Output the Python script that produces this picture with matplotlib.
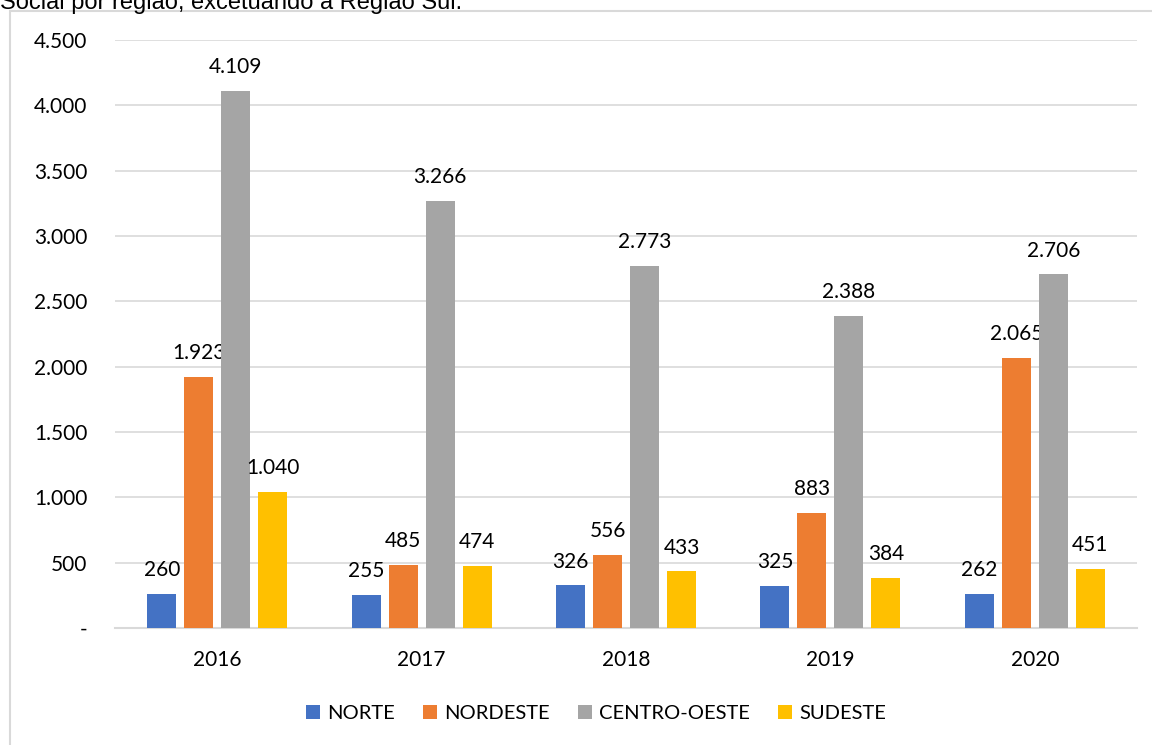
import matplotlib.pyplot as plt
import numpy as np
from matplotlib.patches import Rectangle

anos = ['2016', '2017', '2018', '2019', '2020']
regioes = ['NORTE', 'NORDESTE', 'CENTRO-OESTE', 'SUDESTE']
norte = [260, 255, 326, 325, 262]
nordeste = [1923, 485, 556, 883, 2065]
centro_oeste = [4109, 3266, 2773, 2388, 2706]
sudeste = [1040, 474, 433, 384, 451]
cores = ['#4472C4', '#ED7D31', '#A5A5A5', '#FFC000']
yticks = [0, 500, 1000, 1500, 2000, 2500, 3000, 3500, 4000, 4500]


def fmt(v):
    if v == 0:
        return '-'
    return f'{v:,}'.replace(',', '.')


fig = plt.figure(figsize=(11.52, 7.45), dpi=100)
fonte = ['Lato', 'DejaVu Sans']

# moldura do gráfico (estilo Excel)
fig.patches.append(Rectangle((10 / 1152, -0.01), 1.02, 1 - 11 / 745 + 0.01,
                             transform=fig.transFigure, fill=False,
                             edgecolor='#D9D9D9', linewidth=1.5))
fig.text(0.0, 1.0 - 3 / 745, 'Social por região, excetuando a Região Sul.',
         fontsize=17, family='Liberation Sans', va='center', ha='left')

ax = fig.add_axes([115 / 1152, 1 - 628 / 745, (1137 - 115) / 1152, (628 - 40) / 745])

x = np.arange(len(anos))
largura = 0.142
passo = 0.181
series = [norte, nordeste, centro_oeste, sudeste]
for i, (nome, vals) in enumerate(zip(regioes, series)):
    pos = x + (i - 1.5) * passo
    ax.bar(pos, vals, largura, color=cores[i], label=nome, zorder=3)
    for p, v in zip(pos, vals):
        ax.annotate(fmt(v), (p, v), xytext=(0, 10), textcoords='offset points',
                    ha='center', va='bottom', fontsize=15, family=fonte)

ax.set_xlim(-0.5, len(anos) - 0.5)
ax.set_ylim(0, 4500)
ax.set_yticks(yticks)
ax.set_yticklabels([fmt(v) for v in yticks], family=fonte, fontsize=15)
ax.set_xticks(x)
ax.set_xticklabels(anos, family=fonte, fontsize=15)
ax.tick_params(axis='both', length=0)
ax.tick_params(axis='y', pad=20)
ax.tick_params(axis='x', pad=16)
ax.grid(axis='y', color='#D9D9D9', linewidth=1.2, zorder=0)
for s in ['top', 'right', 'left']:
    ax.spines[s].set_visible(False)
ax.spines['bottom'].set_color('#D9D9D9')
ax.spines['bottom'].set_linewidth(1.5)

ax.legend(loc='center', bbox_to_anchor=(0.4706, -0.145), ncol=4, frameon=False,
          prop={'family': fonte, 'size': 14.5}, handlelength=0.7, handleheight=0.7,
          handletextpad=0.35, columnspacing=1.4)

fig.savefig('out.png', dpi=100)
